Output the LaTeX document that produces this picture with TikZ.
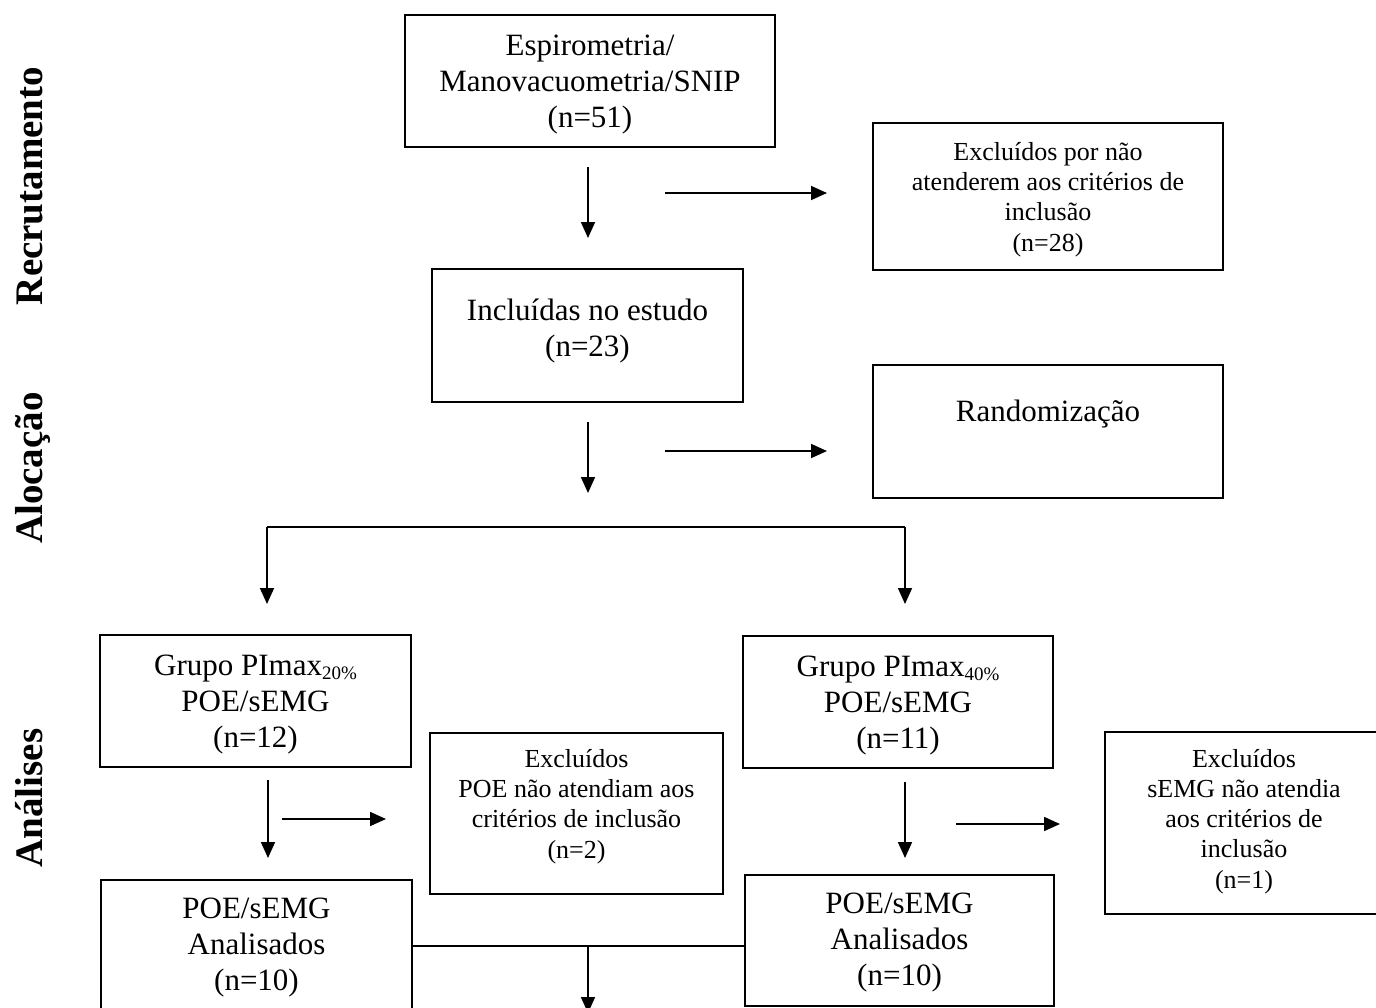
\documentclass[tikz,border=0pt]{standalone}
\usepackage{fontspec}
\setmainfont{Liberation Serif}
\usetikzlibrary{arrows.meta}
\begin{document}
\begin{tikzpicture}[x=1pt,y=-1pt,
  box/.style={draw,line width=1.6pt,inner sep=0pt},
  txt/.style={inner sep=0pt,align=center,font=\fontsize{31}{36}\selectfont},
  stxt/.style={txt,font=\fontsize{26}{30.2}\selectfont},
  side/.style={rotate=90,anchor=base,font=\fontsize{39}{42}\selectfont\bfseries},
  arr/.style={line width=1.7pt,-{Triangle[length=16pt,width=14pt]}},
  ln/.style={line width=1.6pt}]
\useasboundingbox (0,0) rectangle (1376,1007);
\clip (0,0) rectangle (1376,1007);
\newcommand{\mysub}[1]{\raisebox{-4pt}{\fontsize{19}{19}\selectfont #1}}
% side labels
\node[side] (l1) at (42,186) {Recrutamento};
\node[side] (l2) at (42,468) {Alocação};
\node[side] (l3) at (42,798) {Análises};
% boxes
\node[box,minimum width=370pt,minimum height=132pt] (b1) at (590,81) {};
\node[box,minimum width=350pt,minimum height=147pt] (ex1) at (1048,196.5) {};
\node[box,minimum width=311pt,minimum height=133pt] (inc) at (587.5,335.5) {};
\node[box,minimum width=350pt,minimum height=133pt] (rnd) at (1048,431.5) {};
\node[box,minimum width=311pt,minimum height=132pt] (g20) at (255.5,701) {};
\node[box,minimum width=310pt,minimum height=132pt] (g40) at (898,702) {};
\node[box,minimum width=293pt,minimum height=161pt] (ex2) at (576.5,813.5) {};
\node[box,minimum width=278pt,minimum height=182pt] (ex3) at (1244,823) {};
\node[box,minimum width=311pt,minimum height=134pt] (a20) at (256.5,947) {};
\node[box,minimum width=309pt,minimum height=131pt] (a40) at (899.5,940.5) {};
% texts
\node[txt] (b1t) at (590,84.5) {Espirometria/\\Manovacuometria/SNIP\\(n=51)};
\node[stxt] (ex1t) at (1048,199.5) {Excluídos por não\\atenderem aos critérios de\\inclusão\\(n=28)};
\node[txt] (inct) at (587.5,331.5) {Incluídas no estudo\\(n=23)};
\node[txt] (rndt) at (1048,414) {Randomização};
\node[txt] (g20t) at (255.5,705) {Grupo PImax\mysub{20\%}\\POE/sEMG\\(n=12)};
\node[txt] (g40t) at (898,706) {Grupo PImax\mysub{40\%}\\POE/sEMG\\(n=11)};
\node[stxt] (ex2t) at (576.5,806.5) {Excluídos\\POE não atendiam aos\\critérios de inclusão\\(n=2)};
\node[stxt] (ex3t) at (1244,821.5) {Excluídos\\sEMG não atendia\\aos critérios de\\inclusão\\(n=1)};
\node[txt] (a20t) at (256.5,947.5) {POE/sEMG\\Analisados\\(n=10)};
\node[txt] (a40t) at (899.5,942.5) {POE/sEMG\\Analisados\\(n=10)};
% connector coordinates
\coordinate (a1s) at (588,167); \coordinate (a1e) at (588,238);
\coordinate (r1s) at (665,193); \coordinate (r1e) at (827,193);
\coordinate (a2s) at (588,422); \coordinate (a2e) at (588,493);
\coordinate (r2s) at (665,451); \coordinate (r2e) at (827,451);
\coordinate (bl) at (267,527); \coordinate (br) at (905,527);
\coordinate (ble) at (267,604); \coordinate (bre) at (905,604);
\coordinate (a3s) at (268,780); \coordinate (a3e) at (268,858);
\coordinate (r3s) at (282,819); \coordinate (r3e) at (386,819);
\coordinate (a4s) at (905,782); \coordinate (a4e) at (905,858);
\coordinate (r4s) at (956,824); \coordinate (r4e) at (1060,824);
\coordinate (mj) at (588,946); \coordinate (mje) at (588,1013);
% connectors
\draw[arr] (a1s) -- (a1e);
\draw[arr] (r1s) -- (r1e);
\draw[arr] (a2s) -- (a2e);
\draw[arr] (r2s) -- (r2e);
\draw[ln] (bl) -- (br);
\draw[arr] (bl) -- (ble);
\draw[arr] (br) -- (bre);
\draw[arr] (a3s) -- (a3e);
\draw[arr] (r3s) -- (r3e);
\draw[arr] (a4s) -- (a4e);
\draw[arr] (r4s) -- (r4e);
\draw[ln] (a20.east |- mj) -- (a40.west |- mj);
\draw[arr] (mj) -- (mje);
\end{tikzpicture}
\end{document}
